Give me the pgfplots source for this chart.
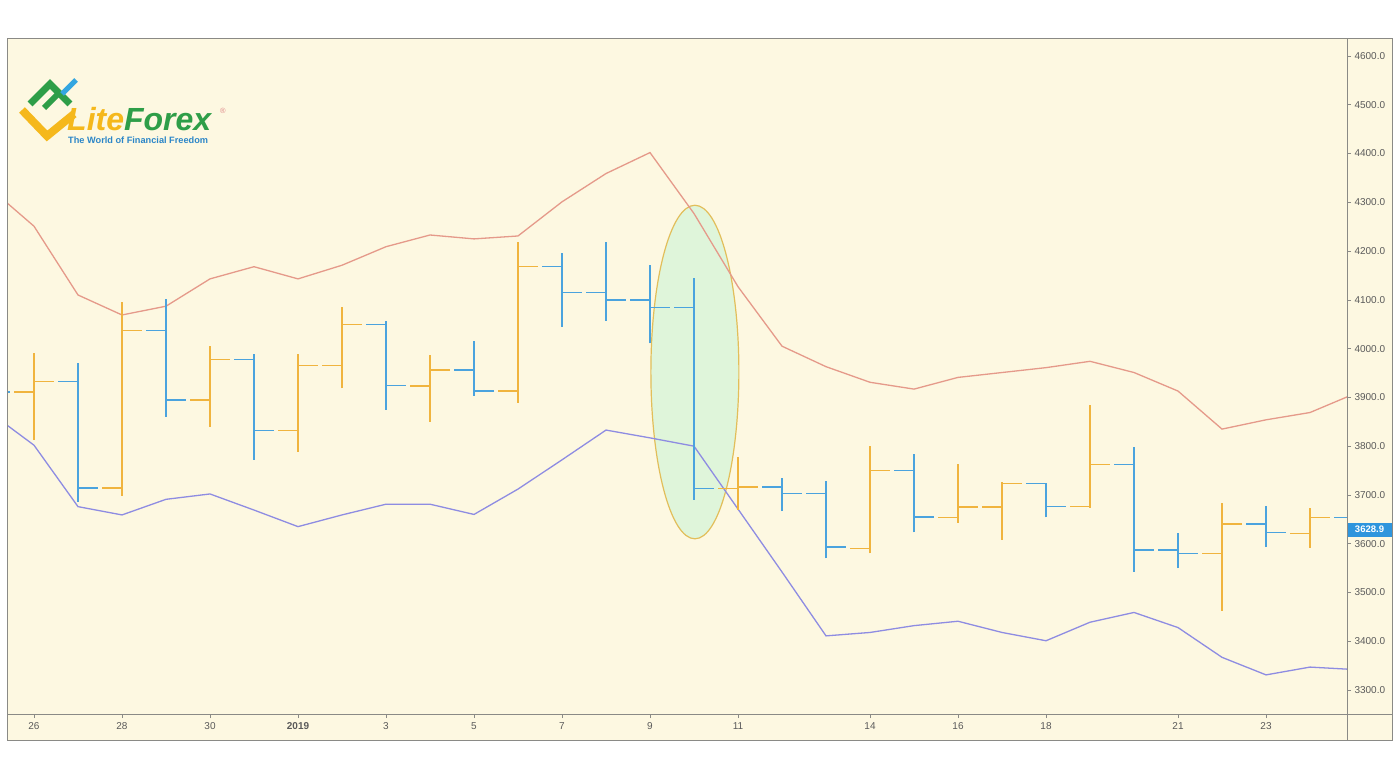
\documentclass[border=0pt]{standalone}
\usepackage{pgfplots}
\usepackage{pgfplotstable}
\usepackage{fontspec}
\setmainfont{Liberation Sans}
\pgfplotsset{compat=1.18}
\definecolor{bg}{HTML}{FDF8E1}
\definecolor{framegray}{HTML}{8A8A86}
\definecolor{labgray}{HTML}{5A5A5A}
\definecolor{upc}{HTML}{F0B43E}
\definecolor{dnc}{HTML}{4AA3DE}
\definecolor{upline}{HTML}{E59A8A}
\definecolor{loline}{HTML}{8E8CE2}
\definecolor{ellfill}{HTML}{DFF5DA}
\definecolor{ellborder}{HTML}{E2BE5A}
\definecolor{tagblue}{HTML}{2E95DD}
\definecolor{liteY}{HTML}{F5B81C}
\definecolor{forexG}{HTML}{2E9E48}
\definecolor{logoB}{HTML}{34A6E0}
\definecolor{subB}{HTML}{2B86C8}
\definecolor{regpink}{HTML}{E08A8A}

\pgfplotstableread{
x o h l c
0 3911 3991 3813 3932
2 3714 4096 3698 4037
4 3895 4005 3840 3978
6 3832 3989 3789 3965
7 3965 4085 3919 4050
9 3923 3987 3850 3956
11 3913 4219 3889 4169
16 3713 3778 3669 3716
19 3590 3801 3580 3750
21 3654 3763 3643 3675
22 3675 3726 3608 3724
24 3676 3884 3674 3763
27 3580 3683 3463 3640
29 3621 3673 3592 3654
}\upbars

\pgfplotstableread{
x o h l c
-1 3930 3960 3890 3911
1 3932 3971 3686 3714
3 4037 4101 3860 3895
5 3978 3989 3772 3832
8 4050 4057 3875 3925
10 3956 4016 3903 3913
12 4169 4197 4045 4115
13 4115 4219 4057 4100
14 4100 4171 4011 4084
15 4084 4144 3690 3713
17 3716 3735 3667 3703
18 3703 3729 3570 3593
20 3750 3784 3623 3655
23 3724 3725 3654 3676
25 3763 3798 3543 3587
26 3587 3621 3550 3580
28 3640 3677 3593 3623
30 3654 3672 3600 3628.9
}\downbars

\pgfplotstableread{
x u lo
-1 4329 3869
0 4251 3802
1 4110 3676
2 4069 3659
3 4087 3691
4 4143 3702
5 4168 3669
6 4143 3635
7 4171 3659
8 4209 3681
9 4233 3681
10 4225 3660
11 4231 3712
12 4301 3772
13 4359 3833
14 4402 3817
15 4277 3800
16 4127 3671
17 4005 3542
18 3963 3411
19 3931 3418
20 3917 3432
21 3941 3441
22 3951 3418
23 3961 3401
24 3974 3439
25 3951 3459
26 3913 3428
27 3835 3367
28 3854 3331
29 3869 3347
30 3907 3342
}\envelope

\pgfplotsset{
  ohlc/.style={draw=none, mark=none, forget plot,
    error bars/error mark=none,
    error bars/error bar style={draw=#1, solid, line width=1.4pt}},
}

\begin{document}
\begin{tikzpicture}[x=1pt,y=1pt]
\path[use as bounding box] (0,0) rectangle (1400,772);
\fill[white] (0,0) rectangle (1400,772);
\fill[bg] (7,32) rectangle (1392,733);
\begin{axis}[
  at={(7pt,58pt)}, anchor=south west,
  width=1340pt, height=675pt, scale only axis,
  xmin=-0.6136, xmax=29.841, ymin=3250.8, ymax=4634.9,
  axis line style={draw=framegray, line width=1pt},
  xtick pos=left, ytick pos=right, yticklabel pos=right,
  tick align=outside, major tick length=4pt,
  tick style={framegray, line width=0.6pt},
  xtick={0,2,4,6,8,10,12,14,16,19,21,23,26,28},
  xticklabels={26,28,30,\textbf{2019},3,5,7,9,11,14,16,18,21,23},
  ytick={3300,3400,...,4600},
  yticklabels={3300.0,3400.0,3500.0,3600.0,3700.0,3800.0,3900.0,4000.0,4100.0,4200.0,4300.0,4400.0,4500.0,4600.0},
  tick label style={font=\fontsize{10}{12}\selectfont, text=labgray},
  xticklabel style={yshift=-1pt},
]
\draw[ellborder, fill=ellfill, line width=1.2pt] (axis cs:15.02,3952) ellipse [x radius=1.0, y radius=342];

\addplot[upline, line width=1.3pt, mark=none] table[x=x, y=u] {\envelope};
\addplot[loline, line width=1.3pt, mark=none] table[x=x, y=lo] {\envelope};

% up bars
\addplot[ohlc=upc, error bars/.cd, y dir=plus, y explicit]
  table[x=x, y=l, y error plus expr=\thisrow{h}-\thisrow{l}] {\upbars};
\addplot[ohlc=upc, error bars/.cd, x dir=minus, x fixed=0.455]
  table[x=x, y=o] {\upbars};
\addplot[ohlc=upc, error bars/.cd, x dir=plus, x fixed=0.455]
  table[x=x, y=c] {\upbars};
% down bars
\addplot[ohlc=dnc, error bars/.cd, y dir=plus, y explicit]
  table[x=x, y=l, y error plus expr=\thisrow{h}-\thisrow{l}] {\downbars};
\addplot[ohlc=dnc, error bars/.cd, x dir=minus, x fixed=0.455]
  table[x=x, y=o] {\downbars};
\addplot[ohlc=dnc, error bars/.cd, x dir=plus, x fixed=0.455]
  table[x=x, y=c] {\downbars};
\end{axis}

% frame
\draw[framegray, line width=1pt] (7,32) rectangle (1392,733);
\draw[framegray, line width=1pt] (1347,32) -- (1347,733);
\draw[framegray, line width=1pt] (7,58) -- (1392,58);

% price tag
\fill[tagblue] (1348,235.5) rectangle (1392,249.5);
\node[text=white, font=\fontsize{9.5}{10}\selectfont\bfseries, inner sep=0] at (1369.5,242.5) {3628.9};

% logo
\draw[liteY, line width=8pt, line join=miter] (22,662) -- (47,636) -- (74,658);
\draw[forexG, line width=7pt, line join=miter] (30,668) -- (50,688) -- (70,668);
\draw[forexG, line width=6pt] (44,664) -- (60,680);
\draw[logoB, line width=5pt] (62,678) -- (76,692);
\node[anchor=base west, inner sep=0] at (67,641.5) {\fontsize{32}{33}\selectfont\bfseries\itshape\textcolor{liteY}{Lite}\textcolor{forexG}{Forex}};
\node[anchor=center, inner sep=0, text=regpink] at (223,661) {\fontsize{7.5}{8}\selectfont ®};
\node[anchor=base west, inner sep=0] at (68,628.5) {\fontsize{9.2}{9.5}\selectfont\bfseries\textcolor{subB}{The World of Financial Freedom}};
\end{tikzpicture}
\end{document}
